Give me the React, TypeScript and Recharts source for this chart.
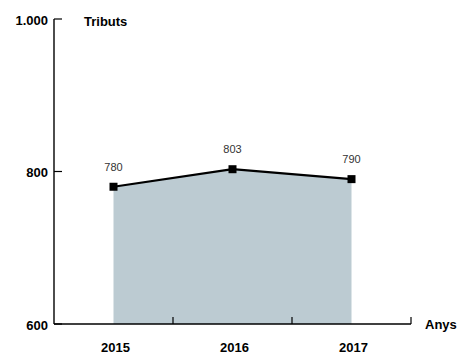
import React from 'react';
import { ComposedChart, Area, Line, XAxis, YAxis, LabelList, Label } from 'recharts';

const years = [2015, 2016, 2017];
const tributs = [780, 803, 790];
const yTicks = [600, 800, 1000];
// category boundaries where the x axis carries its small upward ticks
const xBoundaries = [2015.5, 2016.5, 2017.5];

const data = years.map((year, i) => ({ year, value: tributs[i] }));

const FONT = '"Liberation Sans", Arial, Helvetica, sans-serif';

const fmt = (v: number) => v.toLocaleString('de-DE');

const YTick = (props: any) => {
  const { x, y, payload } = props;
  return (
    <g>
      <line x1={x} y1={y} x2={x + 8} y2={y} stroke="#000" strokeWidth={1.2} />
      <text x={x - 6} y={y + 1} dy="0.35em" textAnchor="end" fontFamily={FONT} fontWeight="bold" fontSize={13} fill="#000">
        {fmt(payload.value)}
      </text>
    </g>
  );
};

const XTick = (props: any) => {
  const { x, y, payload } = props;
  if (!Number.isInteger(payload.value)) {
    return <line x1={x} y1={y} x2={x} y2={y - 7} stroke="#000" strokeWidth={1.2} />;
  }
  return (
    <text x={x + 2} y={y + 23} dy="0.35em" textAnchor="middle" fontFamily={FONT} fontWeight="bold" fontSize={13} fill="#000">
      {payload.value}
    </text>
  );
};

const SquareDot = (props: any) => {
  const { cx, cy } = props;
  if (cx == null || cy == null) return null;
  return <rect x={cx - 4} y={cy - 4} width={8} height={8} fill="#000" />;
};

const App: React.FC = () => {
  return (
    <div style={{ position: 'absolute', left: 0, top: 0, width: 459, height: 356, background: '#fff' }}>
      <ComposedChart width={459} height={356} data={data} margin={{ top: 19, right: 48, bottom: 0, left: 0 }}>
        <XAxis
          dataKey="year"
          type="number"
          domain={[2014.5, 2017.5]}
          ticks={[...years, ...xBoundaries]}
          interval={0}
          height={32}
          tickSize={0}
          tickMargin={0}
          tickLine={false}
          tick={<XTick />}
          axisLine={{ stroke: '#000', strokeWidth: 1.4 }}
        >
          <Label
            content={(p: any) => (
              <text
                x={p.viewBox.x + p.viewBox.width + 14}
                y={p.viewBox.y}
                dy="0.35em"
                fontFamily={FONT}
                fontWeight="bold"
                fontSize={13}
                fill="#000"
              >
                Anys
              </text>
            )}
          />
        </XAxis>
        <YAxis
          type="number"
          domain={[600, 1000]}
          ticks={yTicks}
          interval={0}
          width={54}
          tickSize={0}
          tickMargin={0}
          tickLine={false}
          tick={<YTick />}
          axisLine={{ stroke: '#000', strokeWidth: 1.4 }}
        >
          <Label
            content={(p: any) => (
              <text
                x={p.viewBox.x + p.viewBox.width + 30}
                y={p.viewBox.y + 2}
                dy="0.35em"
                fontFamily={FONT}
                fontWeight="bold"
                fontSize={13}
                fill="#000"
              >
                Tributs
              </text>
            )}
          />
        </YAxis>
        <Area dataKey="value" type="linear" stroke="none" fill="#bccbd2" fillOpacity={1} isAnimationActive={false} />
        <Line
          dataKey="value"
          type="linear"
          stroke="#000"
          strokeWidth={2.2}
          dot={<SquareDot />}
          activeDot={false}
          isAnimationActive={false}
        >
          <LabelList dataKey="value" position="top" offset={16} fontFamily={FONT} fontSize={11} fill="#333" />
        </Line>
      </ComposedChart>
    </div>
  );
};

export default App;
